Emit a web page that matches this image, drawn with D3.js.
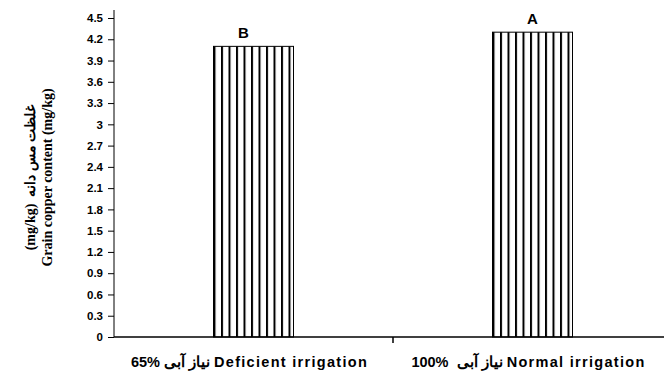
<!DOCTYPE html>
<html><head><meta charset="utf-8">
<script src="https://cdn.jsdelivr.net/npm/d3@7"></script>
<style>body{margin:0;background:#fff}svg{display:block}</style>
</head><body>
<svg id="c" width="664" height="374"></svg>
<script>
const categories = ["Deficient", "Normal"];
const labelNum = ["65%", "100%"];
const labelFa = ["نیاز آبی", "نیاز آبی"];
const labelEn = ["Deficient irrigation", "Normal irrigation"];
const values = [4.1, 4.3];
const letters = ["B", "A"];
const yTicks = [0,0.3,0.6,0.9,1.2,1.5,1.8,2.1,2.4,2.7,3,3.3,3.6,3.9,4.2,4.5];

const svg = d3.select("#c");
const L = 114, R = 672, T = 18, B = 337;
const x = d3.scaleBand().domain(categories).range([L, R]).paddingInner(0).paddingOuter(0);
const y = d3.scaleLinear().domain([0, 4.5]).range([B, T]);
const barW = 80;

const defs = svg.append("defs");
categories.forEach((c, i) => {
  const x0 = x(c) + x.bandwidth()/2 - barW/2;
  const p = defs.append("pattern").attr("id", "hatch" + i)
    .attr("patternUnits", "userSpaceOnUse").attr("x", x0).attr("y", 0)
    .attr("width", 7.5).attr("height", 10);
  p.append("rect").attr("width", 7.5).attr("height", 10).attr("fill", "#fff");
  p.append("rect").attr("x", 0).attr("width", 2).attr("height", 10).attr("fill", "#000");
});

svg.selectAll("rect.bar").data(values).enter().append("rect")
  .attr("class", "bar")
  .attr("x", (d, i) => x(categories[i]) + x.bandwidth()/2 - barW/2)
  .attr("y", d => y(d))
  .attr("width", barW)
  .attr("height", d => B - y(d))
  .attr("fill", (d, i) => "url(#hatch" + i + ")")
  .attr("stroke", "#000").attr("stroke-width", 1);

svg.selectAll("text.let").data(values).enter().append("text")
  .attr("class", "let")
  .attr("x", (d, i) => x(categories[i]) + x.bandwidth()/2 + (i === 0 ? -10 : 0))
  .attr("y", d => y(d) - 8)
  .attr("text-anchor", "middle")
  .attr("font-family", "Liberation Sans, Arial, sans-serif")
  .attr("font-weight", "bold").attr("font-size", 15)
  .text((d, i) => letters[i]);

// y axis
const yAxis = d3.axisLeft(y).tickValues(yTicks).tickSize(6).tickPadding(5)
  .tickFormat(d => String(d));
const gy = svg.append("g").attr("transform", `translate(${L},0)`).call(yAxis);
gy.select(".domain").attr("d", `M0,${T-8}V${B}`).attr("stroke", "#000");
gy.selectAll("text").attr("font-family", "Liberation Sans, Arial, sans-serif")
  .attr("font-weight", "bold").attr("font-size", 11.5).attr("fill", "#000");

// x axis
const gx = svg.append("g").attr("transform", `translate(0,${B})`);
gx.append("line").attr("x1", L).attr("x2", R).attr("stroke", "#000").attr("stroke-width", 1.5);
gx.append("line").attr("x1", x(categories[1])).attr("x2", x(categories[1]))
  .attr("y1", 0).attr("y2", 6).attr("stroke", "#000").attr("stroke-width", 1.5);
const xl = gx.selectAll("text.xl").data(categories).enter().append("text")
  .attr("class", "xl")
  .attr("x", d => x(d) + x.bandwidth()/2 - 4)
  .attr("y", 30)
  .attr("text-anchor", "middle")
  .attr("direction", "ltr")
  .attr("font-family", "Liberation Sans, Arial, sans-serif")
  .attr("font-weight", "bold").attr("font-size", 14.5);
xl.append("tspan").attr("letter-spacing", 1.3).text((d, i) => labelNum[i] + (i === 1 ? "\u00A0\u00A0" : "\u00A0"));
xl.append("tspan").text((d, i) => labelFa[i]);
xl.append("tspan").attr("letter-spacing", 1.3).text((d, i) => "\u00A0" + labelEn[i]);

// y title
const yt = svg.append("text").attr("transform", `translate(0,${(T+B)/2}) rotate(-90)`)
  .attr("text-anchor", "middle")
  .attr("font-family", "Liberation Serif, Times New Roman, serif")
  .attr("font-weight", "bold").attr("font-size", 14);
yt.append("tspan").attr("x", 0).attr("y", 35).attr("direction", "ltr").text("(mg/kg)\u00A0\u00A0غلظت مس دانه");
yt.append("tspan").attr("x", 0).attr("y", 52).text("Grain copper content (mg/kg)");
</script>
</body></html>
